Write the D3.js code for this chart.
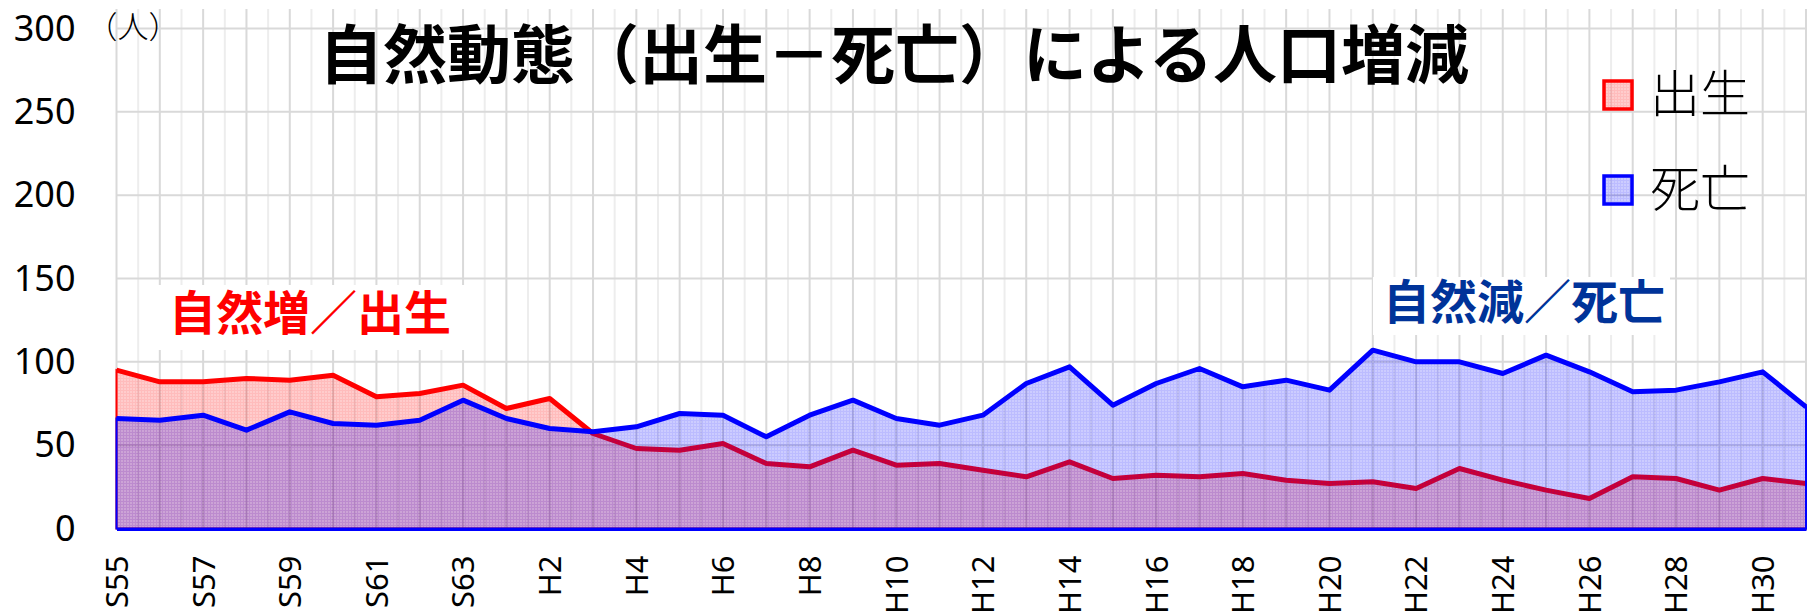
<!DOCTYPE html>
<html>
<head>
<meta charset="utf-8">
<script src="https://cdn.jsdelivr.net/npm/d3@7"></script>
<style>
  html, body { margin: 0; padding: 0; background: #fff; }
  svg { display: block; }
</style>
</head>
<body>
<svg id="chart"></svg>
<script>
// years: Showa 55-63, Heisei 1-31
const categories = [
  "S55","S56","S57","S58","S59","S60","S61","S62","S63",
  "H1","H2","H3","H4","H5","H6","H7","H8","H9","H10",
  "H11","H12","H13","H14","H15","H16","H17","H18","H19","H20",
  "H21","H22","H23","H24","H25","H26","H27","H28","H29","H30","H31"
];
const births = [
  95, 88, 88, 90, 89, 92, 79, 81, 86,
  72, 78, 57, 48, 47, 51, 39, 37, 47, 38,
  39, 35, 31, 40, 30, 32, 31, 33, 29, 27,
  28, 24, 36, 29, 23, 18, 31, 30, 23, 30, 27
];
const deaths = [
  66, 65, 68, 59, 70, 63, 62, 65, 77,
  66, 60, 58, 61, 69, 68, 55, 68, 77, 66,
  62, 68, 87, 97, 74, 87, 96, 85, 89, 83,
  107, 100, 100, 93, 104, 94, 82, 83, 88, 94, 73
];
const yTicks = [0, 50, 100, 150, 200, 250, 300];
const seriesNames = ["出生", "死亡"];

const width = 1807;
const height = 614;
const plotLeft = 116.5, plotRight = 1806, plotTop = 28.5, plotBottom = 528.5;

const svg = d3.select("#chart").attr("width", width).attr("height", height);

const x = d3.scalePoint().domain(categories).range([plotLeft, plotRight]);
const y = d3.scaleLinear().domain([0, 300]).range([plotBottom, plotTop]);
const step = x.step();

// fill patterns (fine grid like the original)
const defs = svg.append("defs");
function makePattern(id, rgb) {
  const p = defs.append("pattern")
    .attr("id", id)
    .attr("patternUnits", "userSpaceOnUse")
    .attr("width", 3).attr("height", 3);
  p.append("rect").attr("width", 3).attr("height", 3)
    .attr("fill", `rgba(${rgb},0.2)`);
  p.append("path").attr("d", "M0,0.5H3M0.5,1V3")
    .attr("stroke", `rgba(${rgb},0.08)`).attr("stroke-width", 1);
}
makePattern("fillBirth", "255,0,0");
makePattern("fillDeath", "0,0,255");

// gridlines
const grid = svg.append("g");
const minorX = categories.slice(0, -1).map(c => x(c) + step / 2);
grid.selectAll("line.minor").data(minorX).enter().append("line")
  .attr("x1", d => d).attr("x2", d => d)
  .attr("y1", 9).attr("y2", plotBottom)
  .attr("stroke", "#ededed").attr("stroke-width", 2);
grid.selectAll("line.major").data(categories).enter().append("line")
  .attr("x1", d => x(d)).attr("x2", d => x(d))
  .attr("y1", 9).attr("y2", plotBottom)
  .attr("stroke", "#d9d9d9").attr("stroke-width", 2);
grid.selectAll("line.h").data(yTicks.slice(1)).enter().append("line")
  .attr("x1", plotLeft).attr("x2", width)
  .attr("y1", d => y(d)).attr("y2", d => y(d))
  .attr("stroke", "#d9d9d9").attr("stroke-width", 2);

// white label boxes
svg.append("rect").attr("x", 155).attr("y", 285).attr("width", 313).attr("height", 65).attr("fill", "#fff");
svg.append("rect").attr("x", 1373).attr("y", 277).attr("width", 297).attr("height", 58).attr("fill", "#fff");

// areas + lines
const area = d3.area()
  .x((d, i) => x(categories[i]))
  .y0(y(0))
  .y1(d => y(d));
const line = d3.line()
  .x((d, i) => x(categories[i]))
  .y(d => y(d));

svg.append("path").datum(births)
  .attr("d", area)
  .attr("fill", "url(#fillBirth)")
  .attr("stroke", "#ff0000").attr("stroke-width", 2);
svg.append("path").datum(births)
  .attr("d", line)
  .attr("fill", "none")
  .attr("stroke", "#ff0000").attr("stroke-width", 5)
  .attr("stroke-linejoin", "round");

svg.append("path").datum(deaths)
  .attr("d", area)
  .attr("fill", "url(#fillDeath)")
  .attr("stroke", "#0000ff").attr("stroke-width", 2);
svg.append("path").datum(deaths)
  .attr("d", line)
  .attr("fill", "none")
  .attr("stroke", "#0000ff").attr("stroke-width", 5)
  .attr("stroke-linejoin", "round");

// axes
const xAxis = d3.axisBottom(x)
  .tickValues(categories.filter((c, i) => i % 2 === 0))
  .tickSize(0);
const gx = svg.append("g").attr("transform", `translate(0,${plotBottom + 1})`).call(xAxis);
gx.select(".domain").attr("stroke", "#0000ff").attr("stroke-width", 2);
gx.selectAll("text")
  .attr("transform", "translate(0,26) rotate(-90)")
  .attr("x", 0).attr("y", 0).attr("dy", "0.35em")
  .attr("text-anchor", "end")
  .attr("font-family", "'Noto Sans', sans-serif")
  .attr("font-size", 31)
  .attr("fill", "#000");

const yAxis = d3.axisLeft(y).tickValues(yTicks).tickSize(0).tickPadding(41);
const gy = svg.append("g").attr("transform", `translate(${plotLeft},0)`).call(yAxis);
gy.select(".domain").remove();
gy.selectAll("text")
  .attr("font-family", "'Noto Sans', sans-serif")
  .attr("font-size", 36)
  .attr("fill", "#000");

// unit
svg.append("text").attr("x", 133).attr("y", 24)
  .attr("text-anchor", "middle").attr("dominant-baseline", "central")
  .attr("font-family", "'Noto Sans CJK JP', sans-serif").attr("font-size", 31)
  .attr("font-weight", 300)
  .text("（人）");

// title
svg.append("text").attr("x", 894).attr("y", 50)
  .attr("text-anchor", "middle").attr("dominant-baseline", "central")
  .attr("font-family", "'Noto Sans CJK JP', sans-serif")
  .attr("font-weight", 700).attr("font-size", 64)
  .text("自然動態（出生－死亡）による人口増減");

// annotations
svg.append("text").attr("x", 310).attr("y", 309)
  .attr("text-anchor", "middle").attr("dominant-baseline", "central")
  .attr("font-family", "'Noto Sans CJK JP', sans-serif")
  .attr("font-weight", 700).attr("font-size", 47)
  .attr("fill", "#ff0000")
  .text("自然増／出生");
svg.append("text").attr("x", 1524).attr("y", 298)
  .attr("text-anchor", "middle").attr("dominant-baseline", "central")
  .attr("font-family", "'Noto Sans CJK JP', sans-serif")
  .attr("font-weight", 700).attr("font-size", 47)
  .attr("fill", "#003399")
  .text("自然減／死亡");

// legend
const legend = svg.append("g");
const legendItems = [
  { name: seriesNames[0], fill: "url(#fillBirth)", stroke: "#ff0000", y: 95 },
  { name: seriesNames[1], fill: "url(#fillDeath)", stroke: "#0000ff", y: 190 }
];
legendItems.forEach(d => {
  legend.append("rect")
    .attr("x", 1604).attr("y", d.y - 14)
    .attr("width", 28).attr("height", 28)
    .attr("fill", d.fill).attr("stroke", d.stroke).attr("stroke-width", 3.5);
  legend.append("text")
    .attr("x", 1650).attr("y", d.y - 5)
    .attr("dominant-baseline", "central")
    .attr("font-family", "'Noto Sans CJK JP', sans-serif")
    .attr("font-weight", 300).attr("font-size", 50)
    .attr("fill", "#000")
    .text(d.name);
});
</script>
</body>
</html>
